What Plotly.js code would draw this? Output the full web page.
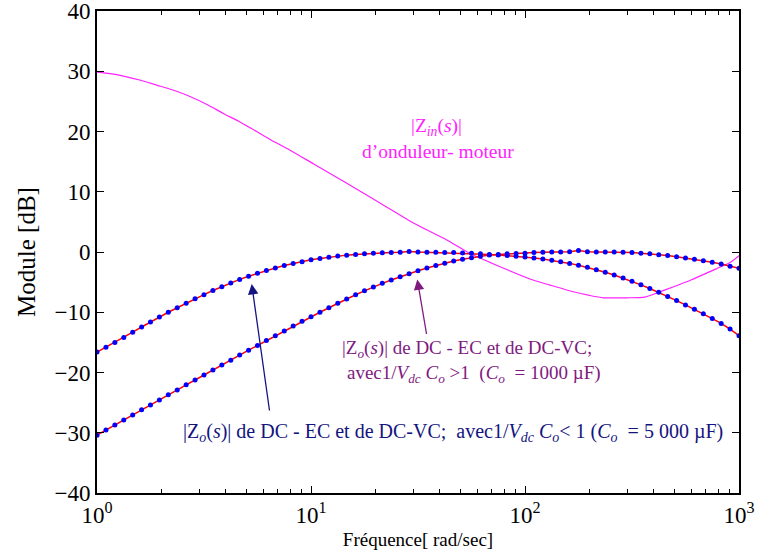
<!DOCTYPE html>
<html>
<head>
<meta charset="utf-8">
<script src="https://cdn.plot.ly/plotly-3.0.1.min.js"></script>
<style>html,body{margin:0;padding:0;background:#fff;}#chart{width:757px;height:554px;}</style>
</head>
<body>
<div id="chart"></div>
<script>
// Frequencies (rad/sec) for the sampled Zo curves
var freq = [1, 1.101, 1.212, 1.334, 1.468, 1.616, 1.778, 1.957, 2.154, 2.371, 2.610, 2.873,
  3.162, 3.481, 3.831, 4.217, 4.642, 5.109, 5.623, 6.190, 6.813, 7.499, 8.254, 9.085,
  10, 11.01, 12.12, 13.34, 14.68, 16.16, 17.78, 19.57, 21.54, 23.71, 26.10, 28.73,
  31.62, 34.81, 38.31, 42.17, 46.42, 51.09, 56.23, 61.90, 68.13, 74.99, 82.54, 90.85,
  100, 110.1, 121.2, 133.4, 146.8, 161.6, 177.8, 195.7, 215.4, 237.1, 261.0, 287.3,
  316.2, 348.1, 383.1, 421.7, 464.2, 510.9, 562.3, 619.0, 681.3, 749.9, 825.4, 908.5, 1000];

// |Zo(s)| with Co = 5000 uF (dB)
var zoA = [-16.6, -15.8, -15.0, -14.2, -13.3, -12.45, -11.6, -10.8, -10.0, -9.25, -8.5, -7.78,
  -7.08, -6.4, -5.75, -5.13, -4.55, -4.02, -3.53, -3.08, -2.65, -2.25, -1.9, -1.6,
  -1.3, -1.07, -0.86, -0.68, -0.52, -0.4, -0.3, -0.2, -0.13, -0.07, -0.03, 0.1,
  0.0, -0.05, -0.05, -0.08, -0.1, -0.15, -0.22, -0.3, -0.4, -0.5, -0.6, -0.71,
  -0.84, -0.98, -1.16, -1.37, -1.61, -1.89, -2.2, -2.55, -2.93, -3.35, -3.82, -4.33,
  -4.87, -5.45, -6.06, -6.7, -7.37, -8.06, -8.78, -9.51, -10.26, -11.05, -11.85, -12.8, -13.9];

// |Zo(s)| with Co = 1000 uF (dB)
var zoB = [-30.4, -29.55, -28.7, -27.9, -27.05, -26.2, -25.4, -24.55, -23.7, -22.9, -22.05, -21.25,
  -20.4, -19.6, -18.75, -17.95, -17.1, -16.3, -15.5, -14.7, -13.9, -13.1, -12.3, -11.5,
  -10.75, -10.0, -9.25, -8.5, -7.8, -7.1, -6.45, -5.8, -5.2, -4.65, -4.1, -3.6,
  -3.1, -2.65, -2.25, -1.85, -1.5, -1.2, -0.95, -0.7, -0.5, -0.4, -0.3, -0.25,
  -0.2, -0.1, -0.05, 0.0, 0.0, 0.05, 0.25, 0.05, 0.0, 0.0, 0.0, -0.05,
  -0.1, -0.2, -0.3, -0.45, -0.6, -0.8, -1.0, -1.2, -1.45, -1.7, -2.0, -2.35, -2.7];

// |Zin(s)| of inverter-motor (dB)
var zinFreq = [1, 1.15, 1.33, 1.6, 1.9, 2.3, 2.72, 3.3, 3.89, 4.7, 5.57, 6.5, 7.98, 10.3, 14.7,
  21.1, 30.1, 43.1, 55, 76, 109, 131, 168, 200, 232, 300, 363, 420, 492, 600, 705, 912, 1000];
var zinDb = [29.85, 29.6, 29.2, 28.5, 27.7, 26.8, 25.8, 24.4, 23.0, 21.5, 20.0, 18.6, 16.9, 14.6, 11.4,
  8.1, 4.8, 2.0, -0.2, -2.4, -4.65, -5.5, -6.6, -7.2, -7.6, -7.6, -7.5, -6.7, -5.8, -4.6, -3.5, -1.7, -0.6];

var xTickVals = [1, 10, 100, 1000];
var xTickText = ['10<sup>0</sup>', '10<sup>1</sup>', '10<sup>2</sup>', '10<sup>3</sup>'];
var yTickVals = [-40, -30, -20, -10, 0, 10, 20, 30, 40];

var minorVals = [];
[1, 10, 100].forEach(function (d) { for (var m = 2; m <= 9; m++) minorVals.push(m * d); });

var serif = 'Liberation Serif';
var MAG = '#ff22ff', PUR = '#7f1a7f', NAV = '#141480';

var traces = [
  {x: zinFreq, y: zinDb, mode: 'lines', line: {color: MAG, width: 1.2, shape: 'spline', smoothing: 0.6}, hoverinfo: 'skip'},
  {x: freq, y: zoA, mode: 'lines+markers', line: {color: '#ff0000', width: 1.5},
   marker: {color: '#0000ff', size: 5}},
  {x: freq, y: zoB, mode: 'lines+markers', line: {color: '#ff0000', width: 1.5},
   marker: {color: '#0000ff', size: 5}}
];

function px(xp) { return (xp - 97) / 642; }
function py(yp) { return (493 - yp) / 482; }

var layout = {
  width: 757, height: 554,
  margin: {l: 97, r: 18, t: 11, b: 61},
  paper_bgcolor: '#fff', plot_bgcolor: '#fff',
  showlegend: false,
  font: {family: serif, color: '#000'},
  xaxis: {
    type: 'log', range: [0, 3], tickmode: 'array', tickvals: xTickVals, ticktext: xTickText,
    ticks: 'inside', ticklen: 7, tickwidth: 1, tickcolor: '#000',
    showline: true, linecolor: '#000', linewidth: 2, mirror: 'ticks',
    showgrid: false, zeroline: false, ticklabeloverflow: 'allow',
    tickfont: {family: serif, size: 23, color: '#000'},
    minor: {tickmode: 'array', tickvals: minorVals, ticks: 'inside', ticklen: 4, tickcolor: '#000', showgrid: false},
    title: {text: 'Fréquence[ rad/sec]', font: {family: serif, size: 19, color: '#000'}, standoff: 6}
  },
  yaxis: {
    range: [-40, 40], tickmode: 'array', tickvals: yTickVals,
    ticks: 'inside', ticklen: 7, tickwidth: 1, tickcolor: '#000',
    showline: true, linecolor: '#000', linewidth: 2, mirror: 'ticks',
    showgrid: false, zeroline: false, ticklabeloverflow: 'allow',
    tickfont: {family: serif, size: 23, color: '#000'},
    title: {text: 'Module [dB]', font: {family: serif, size: 25, color: '#000'}, standoff: 12}
  },
  annotations: [
    {xref: 'paper', yref: 'paper', x: px(437), y: py(127), xanchor: 'center', yanchor: 'middle', showarrow: false,
     text: '|Z<sub><i>in</i></sub>(<i>s</i>)|', font: {family: serif, size: 19.5, color: MAG}},
    {xref: 'paper', yref: 'paper', x: px(438), y: py(152), xanchor: 'center', yanchor: 'middle', showarrow: false,
     text: 'd’onduleur- moteur', font: {family: serif, size: 19.5, color: MAG}},
    {xref: 'paper', yref: 'paper', x: px(340), y: py(349), xanchor: 'left', yanchor: 'middle', showarrow: false,
     text: '|Z<sub><i>o</i></sub>(<i>s</i>)| de DC - EC et de DC-VC;', font: {family: serif, size: 19, color: PUR}},
    {xref: 'paper', yref: 'paper', x: px(345), y: py(374), xanchor: 'left', yanchor: 'middle', showarrow: false,
     text: 'avec1/<i>V<sub>dc</sub></i> <i>C<sub>o</sub></i> >1  (<i>C<sub>o</sub></i>  = 1000 µF)', font: {family: serif, size: 19, color: PUR}},
    {xref: 'paper', yref: 'paper', x: px(181), y: py(432), xanchor: 'left', yanchor: 'middle', showarrow: false,
     text: '|Z<sub><i>o</i></sub>(<i>s</i>)| de DC - EC et de DC-VC;  avec1/<i>V<sub>dc</sub></i> <i>C<sub>o</sub></i>< 1 (<i>C<sub>o</sub></i>  = 5 000 µF)',
     font: {family: serif, size: 20, color: NAV}},
    {xref: 'paper', yref: 'paper', axref: 'pixel', ayref: 'pixel', x: px(251.7), y: py(284), ax: 18, ay: 128,
     text: '', showarrow: true, arrowhead: 2, arrowsize: 1.6, arrowwidth: 1.3, arrowcolor: NAV, standoff: 0},
    {xref: 'paper', yref: 'paper', axref: 'pixel', ayref: 'pixel', x: px(417.3), y: py(279.5), ax: 9.5, ay: 56,
     text: '', showarrow: true, arrowhead: 2, arrowsize: 1.6, arrowwidth: 1.3, arrowcolor: PUR, standoff: 0}
  ]
};

Plotly.newPlot('chart', traces, layout, {displayModeBar: false, staticPlot: true});
</script>
</body>
</html>
